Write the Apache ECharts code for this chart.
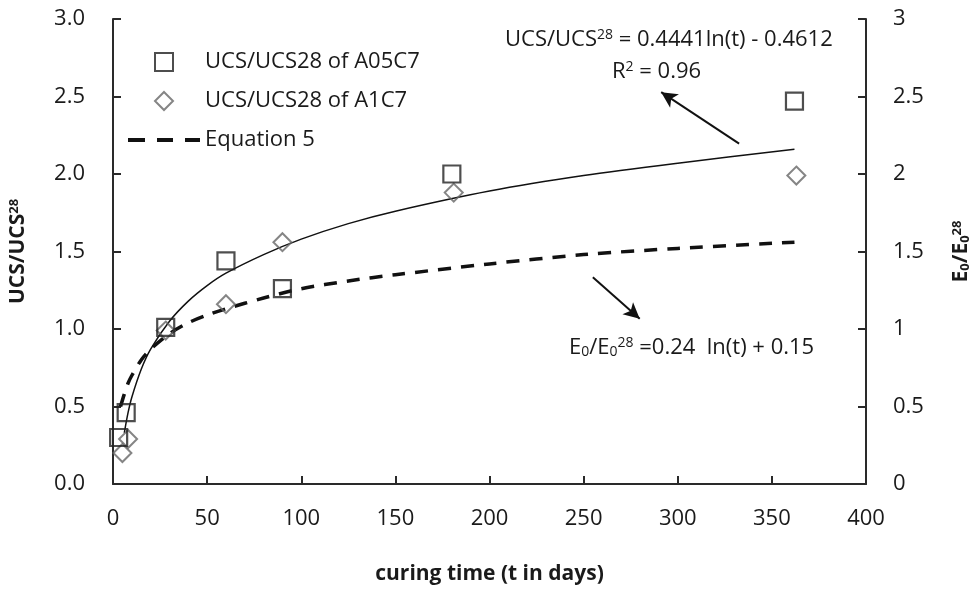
<!DOCTYPE html>
<html>
<head>
<meta charset="utf-8">
<script src="https://cdn.jsdelivr.net/npm/echarts@6/dist/echarts.min.js"></script>
<style>
html, body { margin: 0; padding: 0; background: #fff; }
#chart { width: 980px; height: 590px; }
</style>
</head>
<body>
<div id="chart"></div>
<script>
// 测点：养护时间 (天) 与强度比
const a05c7Days = [3, 7, 28, 60, 90, 180, 362]
const a05c7Ratio = [0.30, 0.46, 1.01, 1.44, 1.26, 2.00, 2.47]
const a1c7Days = [5, 8, 28, 60, 90, 181, 363]
const a1c7Ratio = [0.20, 0.29, 0.99, 1.16, 1.56, 1.88, 1.99]

// 拟合曲线
const fitDays = [6, 8, 10, 15, 20, 30, 40, 50, 60, 80, 100, 125, 150, 200, 250, 300, 362]
const fitRatio = [0.33, 0.46, 0.56, 0.74, 0.87, 1.05, 1.18, 1.28, 1.36, 1.48, 1.58, 1.68, 1.76, 1.89, 1.99, 2.07, 2.16]
// Equation 5 (右轴)
const eq5Days = [4, 6, 8, 10, 15, 20, 30, 40, 50, 60, 80, 100, 125, 150, 200, 250, 300, 362]
const eq5Ratio = [0.50, 0.58, 0.65, 0.70, 0.80, 0.87, 0.97, 1.04, 1.09, 1.13, 1.20, 1.26, 1.31, 1.35, 1.42, 1.48, 1.52, 1.56]

const leftTickLabels = ['0.0', '0.5', '1.0', '1.5', '2.0', '2.5', '3.0']
const rightTickLabels = ['0', '0.5', '1', '1.5', '2', '2.5', '3']
const legendNames = ['UCS/UCS28 of A05C7', 'UCS/UCS28 of A1C7', 'Equation 5']

const zip = (xs, ys) => xs.map((x, i) => [x, ys[i]])

const font = 'Open Sans'
const ink = '#1a1a1a'
const axisColor = '#2a2a2a'

const chart = echarts.init(document.getElementById('chart'))

const axisCommon = {
  min: 0,
  max: 3,
  interval: 0.5,
  nameLocation: 'middle',
  nameRotate: 90,
  nameGap: 84,
  axisLine: { show: true, lineStyle: { color: axisColor, width: 2 } },
  axisTick: { show: true, inside: true, length: 8, lineStyle: { color: axisColor, width: 2 } },
  splitLine: { show: false }
}

const option = {
  animation: false,
  grid: { left: 108, right: 100, top: 19, bottom: 101 },
  legend: {
    orient: 'vertical',
    left: 123,
    top: 46,
    itemWidth: 72,
    itemHeight: 18,
    itemGap: 17,
    symbolKeepAspect: true,
    textStyle: { fontFamily: font, fontSize: 22, color: ink },
    data: [
      { name: legendNames[0], icon: 'path://M0,0h18v18h-18z' },
      { name: legendNames[1], icon: 'path://M9,0L18,9L9,18L0,9Z' },
      { name: legendNames[2], icon: 'path://M0,0h17v4h-17z M29,0h16v4h-16z M57,0h15v4h-15z' }
    ]
  },
  xAxis: {
    type: 'value',
    min: 0,
    max: 400,
    interval: 50,
    name: 'curing time (t in days)',
    nameLocation: 'middle',
    nameGap: 80,
    nameTextStyle: { fontFamily: font, fontSize: 21, fontWeight: 'bold', color: ink },
    axisLine: { lineStyle: { color: axisColor, width: 2 } },
    axisTick: { inside: true, length: 8, lineStyle: { color: axisColor, width: 2 } },
    axisLabel: { margin: 24, fontFamily: font, fontSize: 22, color: ink },
    splitLine: { show: false }
  },
  yAxis: [
    Object.assign({}, axisCommon, {
      type: 'value',
      position: 'left',
      name: '{b|UCS/UCS}{sup|28}',
      nameTextStyle: {
        rich: {
          b: { fontFamily: font, fontSize: 21, fontWeight: 'bold', color: ink },
          sup: { fontFamily: font, fontSize: 13, fontWeight: 'bold', color: ink, verticalAlign: 'top', padding: [0, 0, 8, 0] }
        }
      },
      axisLabel: {
        margin: 28, fontFamily: font, fontSize: 22, color: ink,
        formatter: v => leftTickLabels[Math.round(v / 0.5)]
      }
    }),
    Object.assign({}, axisCommon, {
      type: 'value',
      position: 'right',
      nameGap: 85,
      name: '{b|E}{sub|0}{b|/E}{sub|0}{sup|28}',
      nameTextStyle: {
        rich: {
          b: { fontFamily: font, fontSize: 21, fontWeight: 'bold', color: ink },
          sub: { fontFamily: font, fontSize: 13, fontWeight: 'bold', color: ink, padding: [8, 0, 0, 0] },
          sup: { fontFamily: font, fontSize: 13, fontWeight: 'bold', color: ink, padding: [0, 0, 8, 0] }
        }
      },
      axisLabel: {
        margin: 27, fontFamily: font, fontSize: 22, color: ink,
        formatter: v => rightTickLabels[Math.round(v / 0.5)]
      }
    })
  ],
  series: [
    {
      name: 'fit',
      type: 'line',
      data: zip(fitDays, fitRatio),
      smooth: 0.3,
      symbol: 'none',
      lineStyle: { color: '#111', width: 1.5 },
      z: 2,
      markLine: {
        silent: true,
        symbol: ['none', 'arrow'],
        symbolSize: [12, 16],
        label: { show: false },
        lineStyle: { color: '#111', width: 2, type: 'solid' },
        data: [
          [{ coord: [332.6, 2.196] }, { coord: [291.2, 2.528] }],
          [{ coord: [254.9, 1.334] }, { coord: [279.8, 1.066] }]
        ]
      }
    },
    {
      name: legendNames[2],
      type: 'line',
      yAxisIndex: 1,
      data: zip(eq5Days, eq5Ratio),
      smooth: 0.3,
      symbol: 'none',
      lineStyle: { color: '#111', width: 3.5, type: [13, 10] },
      itemStyle: { color: '#111' },
      z: 2
    },
    {
      name: legendNames[0],
      type: 'scatter',
      data: zip(a05c7Days, a05c7Ratio),
      symbol: 'rect',
      symbolSize: 17,
      itemStyle: { color: 'rgba(255,255,255,0)', borderColor: '#222', borderWidth: 2.2 },
      z: 4
    },
    {
      name: legendNames[1],
      type: 'scatter',
      data: zip(a1c7Days, a1c7Ratio),
      symbol: 'diamond',
      symbolSize: 18,
      itemStyle: { color: 'rgba(255,255,255,0)', borderColor: '#666', borderWidth: 2 },
      z: 3
    }
  ],
  graphic: [
    {
      type: 'text',
      left: 505,
      top: 28,
      style: {
        text: '{t|UCS/UCS}{s|28}{t| = 0.4441ln(t) - 0.4612}',
        rich: {
          t: { fontFamily: font, fontSize: 22, fill: ink },
          s: { fontFamily: font, fontSize: 14, fill: ink, padding: [0, 0, 9, 0] }
        }
      }
    },
    {
      type: 'text',
      left: 612,
      top: 60,
      style: {
        text: '{t|R}{s|2}{t| = 0.96}',
        rich: {
          t: { fontFamily: font, fontSize: 22, fill: ink },
          s: { fontFamily: font, fontSize: 14, fill: ink, padding: [0, 0, 9, 0] }
        }
      }
    },
    {
      type: 'text',
      left: 569,
      top: 336,
      style: {
        text: '{t|E}{b|0}{t|/E}{b|0}{s|28}{t| =0.24  ln(t) + 0.15}',
        rich: {
          t: { fontFamily: font, fontSize: 22, fill: ink },
          b: { fontFamily: font, fontSize: 14, fill: ink, padding: [9, 0, 0, 0] },
          s: { fontFamily: font, fontSize: 14, fill: ink, padding: [0, 0, 9, 0] }
        }
      }
    }
  ]
}

chart.setOption(option)
</script>
</body>
</html>
